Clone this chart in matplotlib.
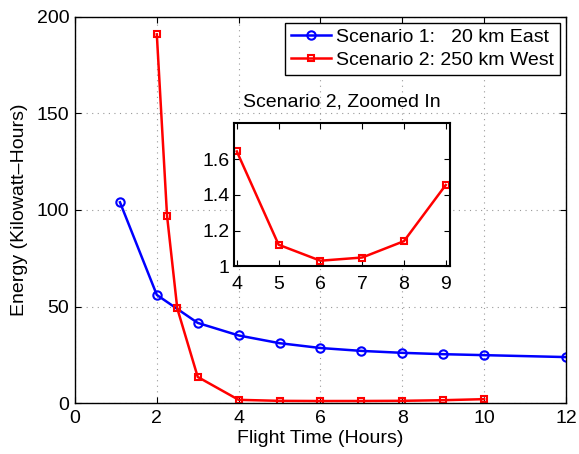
import matplotlib
matplotlib.use("Agg")
import matplotlib.pyplot as plt

plt.rcParams['font.family'] = ['Liberation Sans', 'DejaVu Sans']

s1_x = [1.1, 2, 3, 4, 5, 6, 7, 8, 9, 10, 12]
s1_y = [104, 56, 41.5, 35, 31, 28.5, 27, 26, 25.3, 24.8, 23.8]
s2_x = [2, 2.25, 2.5, 3, 4, 5, 6, 7, 8, 9, 10]
s2_y = [191, 97, 49, 13.5, 1.65, 1.12, 1.03, 1.05, 1.14, 1.46, 2.0]
inset_x = [4, 5, 6, 7, 8, 9]
inset_y = [1.645, 1.12, 1.03, 1.048, 1.14, 1.456]

xticks = [0, 2, 4, 6, 8, 10, 12]
yticks = [0, 50, 100, 150, 200]
inset_yticks = [1, 1.2, 1.4, 1.6]
inset_xticks = [4, 5, 6, 7, 8, 9]

FS = 14

fig = plt.figure(figsize=(5.79, 4.54), dpi=100)
ax = fig.add_axes([0.1295, 0.1123, 0.848, 0.8503])
ax.plot(s1_x, s1_y, '-o', color='blue', lw=1.8, ms=6, mfc='none', mew=1.5,
        label='Scenario 1:   20 km East')
ax.plot(s2_x, s2_y, '-s', color='red', lw=1.8, ms=5, mfc='none', mew=1.5,
        label='Scenario 2: 250 km West')
ax.set_xlim(0, 12)
ax.set_ylim(0, 200)
ax.set_xticks(xticks)
ax.set_yticks(yticks)
ax.tick_params(direction='in', top=True, right=True, labelsize=FS, length=4)
ax.tick_params(axis='x', pad=5)
ax.tick_params(axis='y', pad=4)
ax.grid(True, linestyle=(0, (1, 4)), color='#999999', lw=0.8)
ax.set_xlabel('Flight Time (Hours)', fontsize=FS, labelpad=2)
ax.set_ylabel('Energy (Kilowatt–Hours)', fontsize=FS, labelpad=6)
for sp in ax.spines.values():
    sp.set_linewidth(1.0)
leg = ax.legend(loc='upper right', fontsize=FS, fancybox=False, edgecolor='black',
                framealpha=1, borderpad=0.3, handlelength=2.1, handletextpad=0.25,
                labelspacing=0.25, borderaxespad=0.3)
leg.get_frame().set_linewidth(1.0)

ins = fig.add_axes([0.404, 0.414, 0.373, 0.315])
ins.plot(inset_x, inset_y, '-s', color='red', lw=1.8, ms=5, mfc='none', mew=1.5)
ins.set_xlim(3.93, 9.1)
ins.set_ylim(1.0, 1.805)
ins.set_xticks(inset_xticks)
ins.set_yticks(inset_yticks)
ins.set_yticklabels(['1', '1.2', '1.4', '1.6'])
ins.tick_params(direction='in', top=True, right=True, labelsize=FS, length=4)
ins.tick_params(axis='x', pad=7)
ins.tick_params(axis='y', pad=3)
ins.set_title('Scenario 2, Zoomed In', fontsize=FS, pad=12)
for sp in ins.spines.values():
    sp.set_linewidth(1.5)

fig.savefig('out.png', dpi=100)
